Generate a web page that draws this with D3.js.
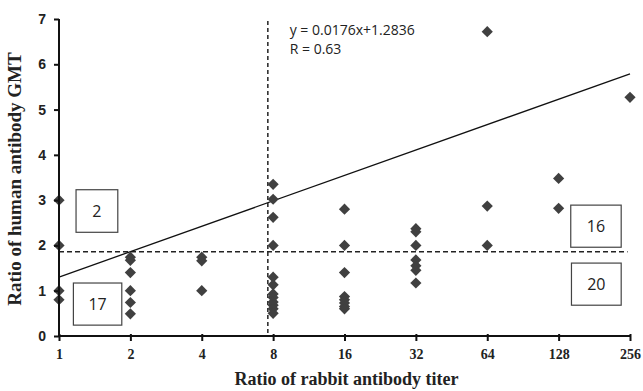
<!DOCTYPE html>
<html>
<head>
<meta charset="utf-8">
<script src="https://cdn.jsdelivr.net/npm/d3@7/dist/d3.min.js"></script>
<style>
  body { margin: 0; background: #fff; }
  svg { display: block; }
</style>
</head>
<body>
<div class="chart"></div>
<script>
// Ratio of human antibody GMT vs ratio of rabbit antibody titer
var svgWidth = 643;
var svgHeight = 391;

// x tick values (log2 axis)
var xTicks = [1, 2, 4, 8, 16, 32, 64, 128, 256];
var yTicks = [0, 1, 2, 3, 4, 5, 6, 7];

// points, one column per titer ratio
var ratioX = [
  1, 1, 1, 1,
  2, 2, 2, 2, 2, 2,
  4, 4, 4,
  8, 8, 8, 8, 8, 8, 8, 8, 8, 8, 8, 8,
  16, 16, 16, 16, 16, 16, 16, 16,
  32, 32, 32, 32, 32, 32, 32,
  64, 64, 64,
  128, 128,
  256
];
var ratioY = [
  3.0, 2.0, 1.0, 0.8,
  1.74, 1.67, 1.4, 1.0, 0.74, 0.49,
  1.74, 1.66, 1.0,
  3.35, 3.02, 2.62, 2.0, 1.3, 1.13, 0.93, 0.85, 0.75, 0.68, 0.6, 0.5,
  2.8, 2.0, 1.4, 0.87, 0.8, 0.73, 0.65, 0.6,
  2.37, 2.3, 2.0, 1.68, 1.55, 1.45, 1.17,
  6.72, 2.87, 2.0,
  3.48, 2.82,
  5.27
];

// regression y = slope*x + intercept
var slope = 0.0176;
var intercept = 1.2836;
var rValue = 0.63;

// cut-off lines
var cutX = 7.6;
var cutY = 1.86;

// quadrant counts: label, x-range, y-range in data units
var quadLabels = ["2", "17", "16", "20"];
var quadX0 = [1.18, 1.15, 144, 145];
var quadX1 = [1.77, 1.84, 235, 235];
var quadY0 = [3.23, 1.17, 2.89, 1.61];
var quadY1 = [2.29, 0.24, 1.96, 0.68];

var margin = { top: 19, right: 13, bottom: 55, left: 59 };
var width = svgWidth - margin.left - margin.right;
var height = svgHeight - margin.top - margin.bottom;

var svg = d3.select(".chart")
  .append("svg")
  .attr("width", svgWidth)
  .attr("height", svgHeight);

var chart = svg.append("g")
  .attr("transform", "translate(" + margin.left + "," + margin.top + ")");

var x = d3.scaleLog().base(2).domain([1, 256]).range([0, width]);
var y = d3.scaleLinear().domain([0, 7]).range([height, 0]);

// dashed cut-off lines
chart.append("line")
  .attr("x1", x(cutX)).attr("x2", x(cutX))
  .attr("y1", 2).attr("y2", height)
  .attr("stroke", "#222").attr("stroke-width", 1.5)
  .attr("stroke-dasharray", "4,3");

chart.append("line")
  .attr("x1", 0).attr("x2", x(250))
  .attr("y1", y(cutY)).attr("y2", y(cutY))
  .attr("stroke", "#222").attr("stroke-width", 1.4)
  .attr("stroke-dasharray", "5,3");

// regression line (straight between the ends of the axis)
chart.append("line")
  .attr("x1", x(1)).attr("y1", y(slope * 1 + intercept))
  .attr("x2", x(256)).attr("y2", y(slope * 256 + intercept))
  .attr("stroke", "#111").attr("stroke-width", 1.3);

// quadrant boxes
quadLabels.forEach(function(label, i) {
  var bx = x(quadX0[i]), bw = x(quadX1[i]) - bx;
  var by = y(quadY0[i]), bh = y(quadY1[i]) - by;
  chart.append("rect")
    .attr("x", bx).attr("y", by)
    .attr("width", bw).attr("height", bh)
    .attr("fill", "#fff").attr("stroke", "#444").attr("stroke-width", 1.2);
  chart.append("text")
    .attr("x", bx + bw / 2).attr("y", by + bh / 2 + 6)
    .attr("text-anchor", "middle")
    .attr("font-family", "'Open Sans', sans-serif")
    .attr("font-size", 16)
    .attr("fill", "#222")
    .text(label);
});

// points
var diamond = d3.symbol().type(d3.symbolDiamond2).size(80);
chart.selectAll("path.pt")
  .data(ratioX)
  .enter().append("path")
  .attr("class", "pt")
  .attr("d", diamond)
  .attr("transform", function(d, i) {
    return "translate(" + x(d) + "," + y(ratioY[i]) + ")";
  })
  .attr("fill", "#404040");

// axes
var xAxis = d3.axisBottom(x).tickValues(xTicks).tickFormat(d3.format("d")).tickSize(5).tickPadding(8);
var yAxis = d3.axisLeft(y).tickValues(yTicks).tickFormat(d3.format("d")).tickSize(5).tickPadding(8);

var gx = chart.append("g")
  .attr("transform", "translate(0," + height + ")")
  .call(xAxis);
gx.select(".domain").attr("stroke", "#111").attr("stroke-width", 2).attr("d", "M0,0H" + width);
gx.selectAll(".tick line").attr("stroke", "#111").attr("stroke-width", 2).attr("y1", -2);
gx.selectAll(".tick text")
  .attr("font-family", "'Liberation Serif', serif")
  .attr("font-weight", "bold")
  .attr("font-size", 14)
  .attr("fill", "#222");

var gy = chart.append("g").call(yAxis);
gy.select(".domain").attr("stroke", "#111").attr("stroke-width", 2).attr("d", "M0,0V" + height);
gy.selectAll(".tick line").attr("stroke", "#111").attr("stroke-width", 2);
gy.selectAll(".tick text")
  .attr("font-family", "'Liberation Sans', sans-serif")
  .attr("font-weight", "bold")
  .attr("font-size", 14)
  .attr("fill", "#222");

// equation
chart.append("text")
  .attr("x", x(9.4)).attr("y", 16)
  .attr("font-family", "'Open Sans', sans-serif")
  .attr("font-size", 14)
  .attr("fill", "#222")
  .text("y = " + slope + "x+" + intercept);
chart.append("text")
  .attr("x", x(9.4)).attr("y", 35)
  .attr("font-family", "'Open Sans', sans-serif")
  .attr("font-size", 14)
  .attr("fill", "#222")
  .text("R = " + rValue);

// axis titles
svg.append("text")
  .attr("x", margin.left + width / 2 + 2)
  .attr("y", 385)
  .attr("text-anchor", "middle")
  .attr("font-family", "'Liberation Serif', serif")
  .attr("font-weight", "bold")
  .attr("font-size", 18)
  .attr("fill", "#222")
  .text("Ratio of rabbit antibody titer");

svg.append("text")
  .attr("transform", "translate(21," + 179 + ") rotate(-90)")
  .attr("text-anchor", "middle")
  .attr("font-family", "'Liberation Serif', serif")
  .attr("font-weight", "bold")
  .attr("font-size", 19)
  .attr("fill", "#222")
  .text("Ratio of human antibody GMT");
</script>
</body>
</html>
